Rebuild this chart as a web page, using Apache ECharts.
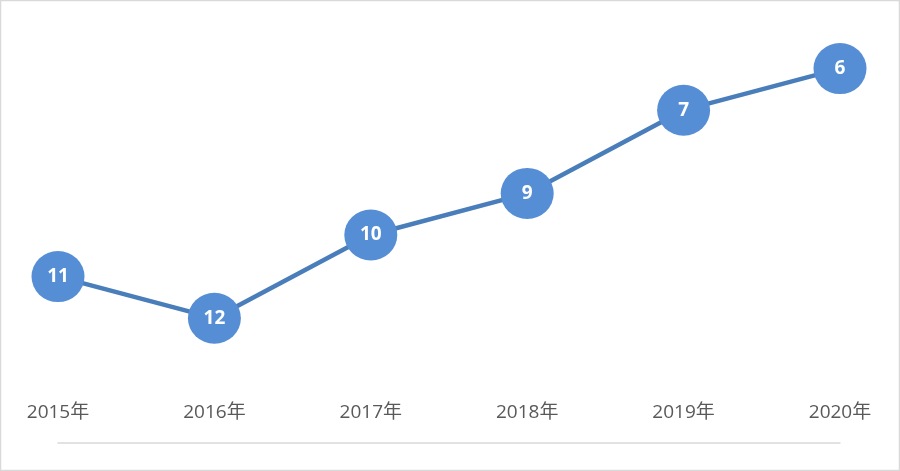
<!DOCTYPE html>
<html><head><meta charset="utf-8">
<script src="https://cdn.jsdelivr.net/npm/echarts@6/dist/echarts.min.js"></script>
<style>html,body{margin:0;padding:0;background:#fff}#c{width:900px;height:471px}</style>
</head><body><div id="c"></div>
<script>
var categories = ['2015年','2016年','2017年','2018年','2019年','2020年'];
var ranks = [11, 12, 10, 9, 7, 6];
var chart = echarts.init(document.getElementById('c'));
chart.setOption({
  animation: false,
  backgroundColor: '#fff',
  graphic: [{type:'rect', shape:{x:0.5,y:0.5,width:899,height:470}, style:{fill:'none', stroke:'#D9D9D9', lineWidth:1.5}}],
  grid: {left: 58, right: 60, top: 27, bottom: 28},
  xAxis: {
    type: 'category', data: categories, boundaryGap: false,
    axisLine: {lineStyle: {color: '#D9D9D9', width: 1.5}},
    axisTick: {show: false},
    axisLabel: {inside: true, margin: 21, color: '#595959', fontSize: 19, fontFamily: 'Open Sans, Noto Sans CJK SC, sans-serif'},
    splitLine: {show: false}
  },
  yAxis: {type: 'value', inverse: true, min: 5, max: 15, show: false, splitLine:{show:false}},
  series: [{
    type: 'line', data: ranks,
    symbol: 'circle', symbolSize: [53, 51],
    lineStyle: {color: '#4A7EBB', width: 4.5},
    itemStyle: {color: '#558ED5'},
    label: {show: true, position: 'inside', color: '#fff', fontSize: 19, fontWeight: 'bold', fontFamily: 'Open Sans, sans-serif'}
  }]
});
</script></body></html>
